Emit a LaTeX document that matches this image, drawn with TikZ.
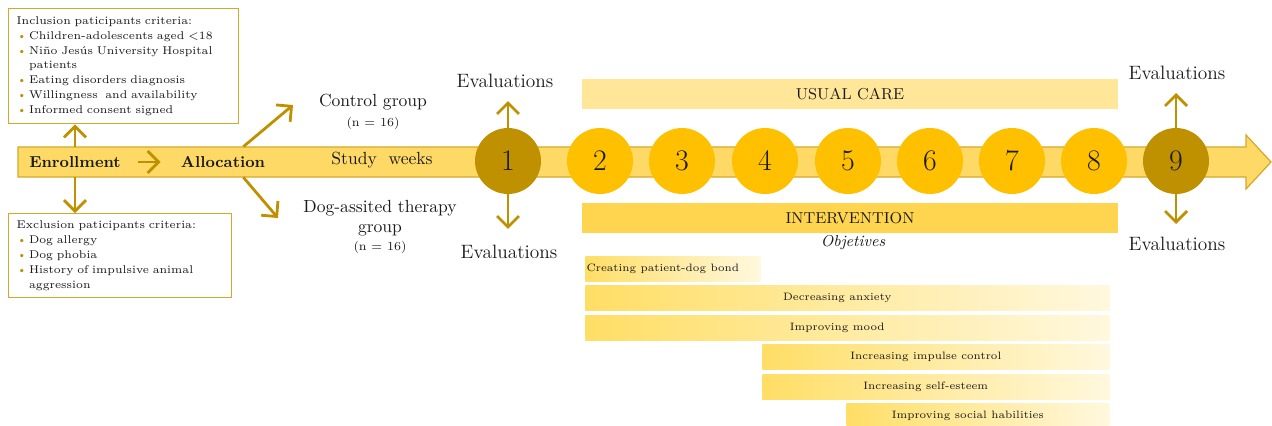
\documentclass[tikz,border=0pt]{standalone}
\usetikzlibrary{shapes.geometric,arrows.meta,positioning,calc}
\definecolor{golddark}{HTML}{BF9000}
\definecolor{goldline}{HTML}{D4A82A}
\definecolor{weekyellow}{HTML}{FFC000}
\definecolor{bandfill}{HTML}{FFD966}
\definecolor{carefill}{HTML}{FFE699}
\definecolor{intfill}{HTML}{FFD44F}
\definecolor{objleft}{HTML}{FFDE66}
\definecolor{objright}{HTML}{FFF8DE}
\definecolor{txt}{HTML}{1A1A1A}
\newcommand{\bul}{\makebox[1.1em][l]{\textcolor{golddark}{\textbullet}}}
\newcommand{\ind}{\hspace*{1.1em}}
\tikzset{
	critbox/.style = {draw=goldline, line width=0.8pt, fill=white, rectangle, anchor=north west, align=left, inner xsep=4.5pt, inner ysep=2pt, text=txt, font=\fontsize{6.4}{8.5}\selectfont},
	week/.style = {circle, fill=weekyellow, minimum size=1.32cm, inner sep=0pt, text=txt, font=\fontsize{17}{20}\selectfont},
	evalweek/.style = {week, fill=golddark},
	evaltxt/.style = {text=txt, font=\fontsize{11}{13}\selectfont},
	grouptxt/.style = {text=txt, align=center, font=\fontsize{10}{11.4}\selectfont},
	ntxt/.style = {text=txt, font=\fontsize{7}{8}\selectfont},
	stage/.style = {minimum height=0.6cm, inner sep=0pt, text=txt, font=\fontsize{9}{10}\selectfont\bfseries},
	careband/.style = {rectangle, minimum width=10.72cm, minimum height=0.6cm, inner sep=0pt, text=txt, font=\fontsize{9}{10}\selectfont},
	objbar/.style = {rectangle, anchor=west, minimum height=0.49cm, inner sep=0pt, left color=objleft, right color=objright, text=txt, font=\fontsize{6.1}{8}\selectfont, execute at end node=\hspace*{0.4cm}},
	garrow/.style = {-{Straight Barb[length=2.2mm,width=4.4mm]}, line width=1.6pt, draw=golddark},
}

\begin{document}
\begin{tikzpicture}[x=0.02cm, y=-0.02cm]
	\useasboundingbox (0,0) rectangle (1272,426);
	% ========================== Band ============================
	\draw[draw=goldline, fill=bandfill, line width=0.7pt] (18,147) -- (1246,147) -- (1246,135) -- (1271,162) -- (1246,189) -- (1246,177) -- (18,177) -- cycle;

	% ========================== Nodes ============================
	% Criteria boxes
	\node [critbox, minimum width=4.6cm, minimum height=2.3cm, text width=4.28cm] (incl) at (8,8) {%
		Inclusion paticipants criteria:\\
		\bul Children-adolescents aged <18\\
		\bul Ni\~no Jes\'us University Hospital\\
		\ind patients\\
		\bul Eating disorders diagnosis\\
		\bul Willingness\ \ and availability\\
		\bul Informed consent signed};
	\node [critbox, minimum width=4.46cm, minimum height=1.68cm, text width=4.14cm] (excl) at (8,213) {%
		Exclusion paticipants criteria:\\
		\bul Dog allergy\\
		\bul Dog phobia\\
		\bul History of impulsive animal\\
		\ind aggression};

	% Stages on the band
	\node [stage] (enr) at (75,162) {Enrollment};
	\node [stage] (alloc) at (223,162) {Allocation};
	\node [grouptxt] (study) at (382,160) {Study\ \ weeks};

	% Groups
	\node [grouptxt] (ctrl) at (373,102) {Control group};
	\node [ntxt] (ctrln) at (373,123) {(n = 16)};
	\node [grouptxt] (dat) at (380,218) {Dog-assited therapy\\group};
	\node [ntxt] (datn) at (380,247) {(n = 16)};
	\coordinate (ctrltip) at (293,105);
	\coordinate (dattip) at (278,218);

	% Study weeks
	\node [evalweek] (w1) at (508,161) {1};
	\foreach \n/\x in {2/600,3/682,4/765,5/848,6/930,7/1012,8/1094}
		\node [week] (w\n) at (\x,161) {\n};
	\node [evalweek] (w9) at (1176,161) {9};

	% Evaluations
	\node [evaltxt] (ev1t) at (505,81) {Evaluations};
	\node [evaltxt] (ev1b) at (509,252) {Evaluations};
	\node [evaltxt] (ev9t) at (1177,73) {Evaluations};
	\node [evaltxt] (ev9b) at (1177,244) {Evaluations};

	% Usual care and intervention
	\node [careband, fill=carefill] (care) at (850,94) {USUAL CARE};
	\node [careband, fill=intfill] (interv) at (850,218) {INTERVENTION};
	\node [text=txt, font=\fontsize{9}{10}\selectfont\itshape] (obj) at (853,243) {Objetives};

	% Objectives
	\node [objbar, minimum width=3.5cm] (bond) at (585,269) {Creating patient-dog bond};
	\node [objbar, minimum width=10.48cm] (anx) at (585,298) {Decreasing anxiety};
	\node [objbar, minimum width=10.48cm] (mood) at (585,328) {Improving mood};
	\node [objbar, minimum width=6.94cm] (imp) at (762,357) {Increasing impulse control};
	\node [objbar, minimum width=6.94cm] (self) at (762,387) {Increasing self-esteem};
	\node [objbar, minimum width=5.26cm] (soc) at (846,416) {Improving social habilities};

	% ========================== Lines ============================
	\draw [garrow] (enr.north) -- (enr.north |- incl.south);
	\draw [garrow] (enr.south) -- (enr.south |- excl.north);
	\draw [garrow, shorten <=0.34cm, shorten >=0.4cm] (enr.east) -- (alloc.west);
	\draw [garrow] ([xshift=-0.44cm]alloc.north east) -- (ctrltip);
	\draw [garrow] ([xshift=-0.44cm]alloc.south east) -- (dattip);

	\draw [garrow, shorten >=0.14cm] (w1.north) -- (w1.north |- ev1t.south);
	\draw [garrow, shorten >=0.2cm] (w1.south) -- (w1.south |- ev1b.north);
	\draw [garrow, shorten >=0.14cm] (w9.north) -- (w9.north |- ev9t.south);
	\draw [garrow, shorten >=0.14cm] (w9.south) -- (w9.south |- ev9b.north);
\end{tikzpicture}
\end{document}
